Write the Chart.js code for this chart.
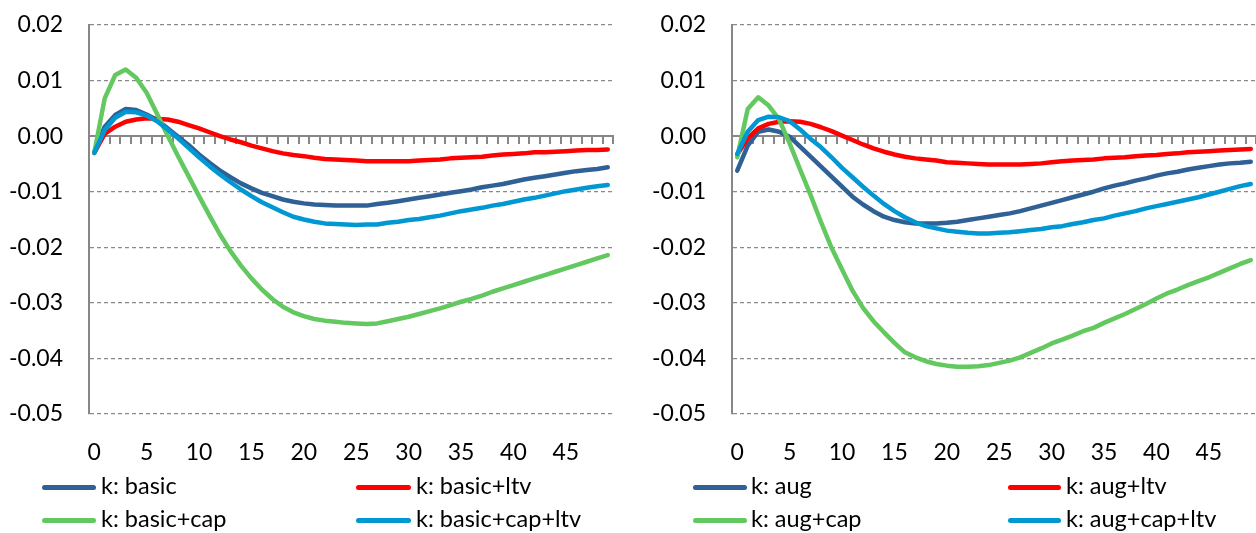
<!DOCTYPE html>
<html>
<head>
<meta charset="utf-8">
<script src="https://cdn.jsdelivr.net/npm/chart.js@4.4.1/dist/chart.umd.min.js"></script>
<style>
  html, body { margin: 0; padding: 0; background: #ffffff; }
  body { width: 1256px; height: 533px; position: relative; overflow: hidden; font-family: Lato, sans-serif; }
  .panel { position: absolute; top: 0; width: 628px; height: 533px; }
  .leg { position: absolute; height: 26px; }
  .leg .sw { position: absolute; left: 0; top: 10.5px; height: 5px; border-radius: 3px; }
  .leg .tx { position: absolute; top: -2px; line-height: 26px; font-size: 23.5px; color: #000; white-space: nowrap; font-family: Lato, sans-serif; }
</style>
</head>
<body>
<div class="panel" style="left:0px"><canvas id="c1" width="628" height="533"></canvas></div>
<div class="panel" style="left:628px"><canvas id="c2" width="628" height="533"></canvas></div>
<div id="legends"></div>
<script>
// ---------- data ----------
const periods = ['0','1','2','3','4','5','6','7','8','9','10','11','12','13','14','15','16','17','18','19',
  '20','21','22','23','24','25','26','27','28','29','30','31','32','33','34','35','36','37','38','39',
  '40','41','42','43','44','45','46','47','48','49'];
const xTickLabels = ['0','5','10','15','20','25','30','35','40','45'];
const yTickValues = [-0.05, -0.04, -0.03, -0.02, -0.01, 0, 0.01, 0.02];
const yTickLabels = ['-0.05', '-0.04', '-0.03', '-0.02', '-0.01', '0.00', '0.01', '0.02'];

// left panel
const kBasic = [-0.0030, 0.0017, 0.0038, 0.0049, 0.0047, 0.0039, 0.0029, 0.0014, -0.0001, -0.0016,
  -0.0033, -0.0048, -0.0062, -0.0074, -0.0085, -0.0094, -0.0102, -0.0108, -0.0114, -0.0118,
  -0.0121, -0.0123, -0.0124, -0.0125, -0.0125, -0.0125, -0.0125, -0.0122, -0.0120, -0.0117,
  -0.0114, -0.0111, -0.0108, -0.0105, -0.0102, -0.0099, -0.0096, -0.0092, -0.0089, -0.0086,
  -0.0082, -0.0078, -0.0075, -0.0072, -0.0069, -0.0066, -0.0063, -0.0061, -0.0059, -0.0056];
const kBasicLtv = [-0.0030, 0.0004, 0.0017, 0.0026, 0.0030, 0.0032, 0.0031, 0.0030, 0.0026, 0.0020,
  0.0014, 0.0007, 0.0000, -0.0006, -0.0011, -0.0017, -0.0022, -0.0027, -0.0031, -0.0034,
  -0.0036, -0.0039, -0.0041, -0.0042, -0.0043, -0.0044, -0.0045, -0.0045, -0.0045, -0.0045,
  -0.0045, -0.0044, -0.0043, -0.0042, -0.0040, -0.0039, -0.0038, -0.0037, -0.0035, -0.0033,
  -0.0032, -0.0031, -0.0029, -0.0029, -0.0028, -0.0027, -0.0026, -0.0025, -0.0025, -0.0024];
const kBasicCap = [-0.0030, 0.0068, 0.0110, 0.0120, 0.0105, 0.0078, 0.0040, 0.0001, -0.0036, -0.0072,
  -0.0108, -0.0143, -0.0177, -0.0207, -0.0233, -0.0256, -0.0276, -0.0293, -0.0307, -0.0317,
  -0.0324, -0.0329, -0.0332, -0.0334, -0.0336, -0.0337, -0.0338, -0.0337, -0.0333, -0.0329,
  -0.0325, -0.0320, -0.0315, -0.0310, -0.0304, -0.0298, -0.0293, -0.0287, -0.0280, -0.0274,
  -0.0268, -0.0262, -0.0256, -0.0250, -0.0244, -0.0238, -0.0232, -0.0226, -0.0220, -0.0214];
const kBasicCapLtv = [-0.0030, 0.0011, 0.0033, 0.0044, 0.0043, 0.0037, 0.0027, 0.0012, -0.0004, -0.0021,
  -0.0038, -0.0054, -0.0069, -0.0083, -0.0096, -0.0108, -0.0119, -0.0128, -0.0137, -0.0145,
  -0.0150, -0.0154, -0.0157, -0.0158, -0.0159, -0.0160, -0.0159, -0.0159, -0.0156, -0.0154,
  -0.0151, -0.0149, -0.0146, -0.0143, -0.0139, -0.0135, -0.0132, -0.0129, -0.0125, -0.0122,
  -0.0118, -0.0114, -0.0111, -0.0107, -0.0103, -0.0099, -0.0096, -0.0093, -0.0090, -0.0088];

// right panel
const kAug = [-0.0062, -0.0017, 0.0008, 0.0012, 0.0008, -0.0001, -0.0019, -0.0037, -0.0055, -0.0073,
  -0.0091, -0.0109, -0.0123, -0.0135, -0.0145, -0.0151, -0.0155, -0.0157, -0.0157, -0.0157,
  -0.0156, -0.0154, -0.0151, -0.0148, -0.0145, -0.0142, -0.0139, -0.0135, -0.0130, -0.0125,
  -0.0120, -0.0115, -0.0110, -0.0105, -0.0100, -0.0094, -0.0089, -0.0085, -0.0080, -0.0076,
  -0.0071, -0.0067, -0.0064, -0.0060, -0.0057, -0.0054, -0.0051, -0.0049, -0.0048, -0.0046];
const kAugLtv = [-0.0033, -0.0004, 0.0014, 0.0022, 0.0026, 0.0027, 0.0026, 0.0022, 0.0016, 0.0009,
  0.0001, -0.0007, -0.0015, -0.0022, -0.0028, -0.0033, -0.0037, -0.0040, -0.0042, -0.0044,
  -0.0047, -0.0048, -0.0049, -0.0050, -0.0051, -0.0051, -0.0051, -0.0051, -0.0050, -0.0049,
  -0.0047, -0.0045, -0.0044, -0.0043, -0.0042, -0.0040, -0.0039, -0.0038, -0.0036, -0.0035,
  -0.0034, -0.0032, -0.0031, -0.0029, -0.0028, -0.0027, -0.0026, -0.0025, -0.0024, -0.0023];
const kAugCap = [-0.0038, 0.0049, 0.0070, 0.0055, 0.0030, -0.0013, -0.0060, -0.0106, -0.0155, -0.0201,
  -0.0240, -0.0278, -0.0309, -0.0333, -0.0353, -0.0372, -0.0389, -0.0398, -0.0405, -0.0410,
  -0.0413, -0.0415, -0.0415, -0.0414, -0.0412, -0.0408, -0.0404, -0.0398, -0.0390, -0.0382,
  -0.0373, -0.0366, -0.0359, -0.0351, -0.0345, -0.0336, -0.0328, -0.0320, -0.0311, -0.0302,
  -0.0292, -0.0283, -0.0276, -0.0268, -0.0261, -0.0254, -0.0246, -0.0238, -0.0230, -0.0223];
const kAugCapLtv = [-0.0032, 0.0008, 0.0029, 0.0035, 0.0034, 0.0027, 0.0012, -0.0005, -0.0020, -0.0038,
  -0.0057, -0.0074, -0.0091, -0.0107, -0.0122, -0.0135, -0.0146, -0.0155, -0.0162, -0.0166,
  -0.0170, -0.0172, -0.0174, -0.0175, -0.0175, -0.0174, -0.0173, -0.0171, -0.0169, -0.0167,
  -0.0164, -0.0162, -0.0158, -0.0155, -0.0151, -0.0148, -0.0143, -0.0139, -0.0135, -0.0130,
  -0.0126, -0.0122, -0.0118, -0.0114, -0.0110, -0.0105, -0.0100, -0.0095, -0.0090, -0.0086];

const leftNames = ['k: basic', 'k: basic+ltv', 'k: basic+cap', 'k: basic+cap+ltv'];
const rightNames = ['k: aug', 'k: aug+ltv', 'k: aug+cap', 'k: aug+cap+ltv'];
const seriesColors = ['#2F6096', '#FF0000', '#62C85F', '#0097D2'];

// ---------- drawing ----------
const FONT = 'Lato';
const AXIS = '#878787';
const GRID = '#8A8A8A';

function makeChart(canvasId, names, values, yWidth, padRight) {
  const datasets = names.map((n, i) => ({
    label: n,
    data: values[i],
    borderColor: seriesColors[i],
    backgroundColor: seriesColors[i],
    borderWidth: 4.5,
    pointRadius: 0,
    pointHoverRadius: 0,
    tension: 0,
    borderCapStyle: 'round',
    borderJoinStyle: 'round',
    fill: false,
    order: 4 - i,
    xAxisID: 'x',
    yAxisID: 'y'
  }));
  return new Chart(document.getElementById(canvasId), {
    type: 'line',
    data: { labels: periods, datasets },
    options: {
      responsive: false,
      animation: false,
      devicePixelRatio: 1,
      events: [],
      layout: { padding: { left: 0, right: padRight, top: 25, bottom: 0 } },
      plugins: { legend: { display: false }, tooltip: { enabled: false }, title: { display: false } },
      scales: {
        y: {
          type: 'linear',
          position: 'left',
          min: -0.05,
          max: 0.02,
          afterBuildTicks: s => { s.ticks = yTickValues.map(v => ({ value: v })); },
          afterFit: s => { s.width = yWidth; s.paddingTop = 0; s.paddingBottom = 0; },
          ticks: {
            padding: 26,
            color: '#000',
            font: { family: FONT, size: 23 },
            callback: (v, i) => yTickLabels[i]
          },
          grid: {
            drawTicks: false,
            lineWidth: 1.3,
            color: c => (c.tick && Math.abs(c.tick.value) < 1e-9) ? 'rgba(0,0,0,0)' : GRID
          },
          border: { display: true, color: AXIS, width: 2, dash: [4, 3] }
        },
        x: {
          type: 'category',
          position: { y: 0 },
          offset: true,
          ticks: { display: false },
          afterFit: s => { s.paddingLeft = 0; s.paddingRight = 0; },
          grid: { display: true, offset: true, drawOnChartArea: false, drawTicks: true, tickLength: 7, lineWidth: 2, color: AXIS, tickColor: AXIS, tickWidth: 2 },
          border: { display: true, color: AXIS, width: 2 }
        },
        x2: {
          type: 'category',
          position: 'bottom',
          offset: true,
          afterFit: s => { s.height = 119; s.paddingLeft = 0; s.paddingRight = 0; },
          grid: { display: false, drawTicks: false, drawOnChartArea: false },
          border: { display: false },
          ticks: {
            autoSkip: false,
            maxRotation: 0,
            minRotation: 0,
            padding: 25,
            color: '#000',
            font: { family: FONT, size: 23 },
            callback: (v, i) => xTickLabels.includes(periods[i]) ? periods[i] : ''
          }
        }
      }
    }
  });
}

function addLegend(names, layout) {
  const host = document.getElementById('legends');
  names.forEach((n, i) => {
    const L = layout[i];
    const d = document.createElement('div');
    d.className = 'leg';
    d.style.left = L.x1 + 'px';
    d.style.top = (L.cy - 13) + 'px';
    const sw = document.createElement('span');
    sw.className = 'sw';
    sw.style.width = (L.x2 - L.x1) + 'px';
    sw.style.background = seriesColors[i];
    const tx = document.createElement('span');
    tx.className = 'tx';
    tx.style.left = (L.tx - L.x1) + 'px';
    tx.textContent = n;
    d.appendChild(sw);
    d.appendChild(tx);
    host.appendChild(d);
  });
}

function draw() {
  makeChart('c1', leftNames, [kBasic, kBasicLtv, kBasicCap, kBasicCapLtv], 89, 15);
  makeChart('c2', rightNames, [kAug, kAugLtv, kAugCap, kAugCapLtv], 104, 0);
  addLegend(leftNames, [
    { x1: 42, x2: 96, tx: 101, cy: 487 },
    { x1: 356, x2: 411, tx: 416, cy: 487 },
    { x1: 42, x2: 96, tx: 101, cy: 520 },
    { x1: 356, x2: 411, tx: 416, cy: 520 }
  ]);
  addLegend(rightNames, [
    { x1: 693, x2: 747, tx: 751, cy: 487 },
    { x1: 1008, x2: 1061, tx: 1066, cy: 487 },
    { x1: 693, x2: 747, tx: 751, cy: 520 },
    { x1: 1008, x2: 1061, tx: 1066, cy: 520 }
  ]);
}

if (document.fonts && document.fonts.load) {
  document.fonts.load('23px Lato').then(draw, draw);
} else {
  draw();
}
</script>
</body>
</html>
